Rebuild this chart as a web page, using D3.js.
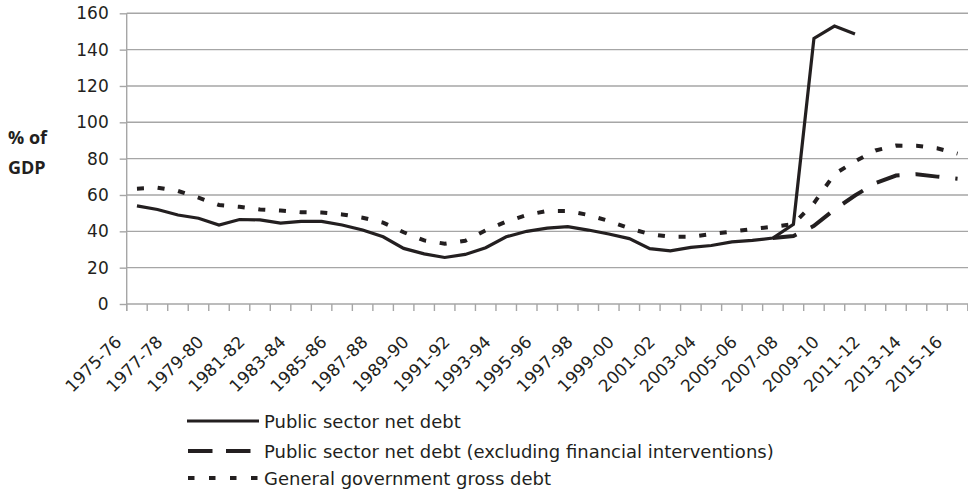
<!DOCTYPE html>
<html>
<head>
<meta charset="utf-8">
<script src="https://cdn.jsdelivr.net/npm/d3@7"></script>
<style>
  body { margin: 0; background: #fff; }
  svg { display: block; }
</style>
</head>
<body>
<div class="chart"></div>
<script>
// fiscal years on the x axis
var years = ["1975-76", "1976-77", "1977-78", "1978-79", "1979-80", "1980-81", "1981-82",
    "1982-83", "1983-84", "1984-85", "1985-86", "1986-87", "1987-88", "1988-89",
    "1989-90", "1990-91", "1991-92", "1992-93", "1993-94", "1994-95", "1995-96",
    "1996-97", "1997-98", "1998-99", "1999-00", "2000-01", "2001-02", "2002-03",
    "2003-04", "2004-05", "2005-06", "2006-07", "2007-08", "2008-09", "2009-10",
    "2010-11", "2011-12", "2012-13", "2013-14", "2014-15", "2015-16"];

// % of GDP
var netDebt = [54, 52, 49, 47.2, 43.5, 46.5, 46.3, 44.5, 45.5, 45.5, 43.5, 40.7, 37, 30.6,
    27.6, 25.6, 27.3, 31, 37, 40, 41.8, 42.6, 40.7, 38.5, 36, 30.5, 29.2, 31.2,
    32.2, 34.2, 35, 36.3, 43.9, 146.2, 153, 148.6, null, null, null, null, null];

var netDebtExFin = [null, null, null, null, null, null, null, null, null, null, null, null,
    null, null, null, null, null, null, null, null, null, null, null, null, null, null,
    null, null, null, null, null, 36.3, 37.4, 43, 52, 59.7, 66.6, 70.7, 71.4, 70.1, 69];

var grossDebt = [63.5, 64, 62.2, 58.5, 54.5, 53.5, 52, 51.4, 50.5, 50.3, 49.3, 47.5, 44.8, 39.5,
    35, 33.2, 34.8, 40.5, 45.3, 49, 51.2, 51.2, 49, 45.7, 41.7, 38.4, 37, 37,
    38.5, 39.8, 41.3, 42.5, 44, 55.5, 71.5, 78.5, 84.5, 87.2, 87.1, 85.7, 82.8];

var yTicks = [0, 20, 40, 60, 80, 100, 120, 140, 160];

var seriesNames = ["Public sector net debt",
    "Public sector net debt (excluding financial interventions)",
    "General government gross debt"];

var width = 968,
    height = 492,
    plotLeft = 126.7,
    plotRight = 967.8,
    plotTop = 13.3,
    plotBottom = 304,
    ink = "#231f20",
    grid = "#a6a6a6";

var svg = d3.select(".chart").append("svg")
        .attr("width", width)
        .attr("height", height);

var x = d3.scaleBand().domain(years).range([plotLeft, plotRight]);
var y = d3.scaleLinear().domain([0, 160]).range([plotBottom, plotTop]);
var half = x.bandwidth() / 2;

// horizontal gridlines
svg.append("g").selectAll("line")
    .data(yTicks.slice(1))
    .enter().append("line")
    .attr("x1", plotLeft)
    .attr("x2", width)
    .attr("y1", function(d) { return y(d); })
    .attr("y2", function(d) { return y(d); })
    .style("stroke", grid)
    .style("stroke-width", 1.4);

// y axis
var yAxis = svg.append("g")
    .attr("transform", "translate(" + plotLeft + ",0)")
    .call(d3.axisLeft(y).tickValues(yTicks).tickSize(7).tickPadding(11));
yAxis.select(".domain").remove();
yAxis.selectAll("line").style("stroke", grid).style("stroke-width", 1.4);
yAxis.selectAll("text")
    .style("font-family", "DejaVu Sans")
    .style("font-size", "17px")
    .style("fill", ink);

svg.append("line")
    .attr("x1", plotLeft).attr("x2", plotLeft)
    .attr("y1", plotTop).attr("y2", plotBottom + 7)
    .style("stroke", grid)
    .style("stroke-width", 1.4);

// x axis: baseline, ticks on category boundaries, every other label
svg.append("line")
    .attr("x1", plotLeft).attr("x2", width)
    .attr("y1", plotBottom).attr("y2", plotBottom)
    .style("stroke", grid)
    .style("stroke-width", 1.4);

var bounds = years.map(function(d) { return x(d); }).concat([plotRight]);
svg.append("g").selectAll("line")
    .data(bounds)
    .enter().append("line")
    .attr("x1", function(d) { return d; })
    .attr("x2", function(d) { return d; })
    .attr("y1", plotBottom)
    .attr("y2", plotBottom + 7)
    .style("stroke", grid)
    .style("stroke-width", 1.4);

svg.append("g").selectAll("text")
    .data(years.filter(function(d, i) { return i % 2 === 0; }))
    .enter().append("text")
    .attr("transform", function(d) {
        return "translate(" + (x(d) - 4) + "," + 343 + ") rotate(-45)";
    })
    .attr("text-anchor", "end")
    .style("font-family", "DejaVu Sans")
    .style("font-size", "17px")
    .style("fill", ink)
    .text(function(d) { return d; });

// axis title
var title = svg.append("text")
    .attr("x", 8)
    .style("font-family", "Open Sans")
    .style("font-weight", "bold")
    .style("font-size", "18px")
    .style("fill", ink);
title.append("tspan").attr("x", 8).attr("y", 144).text("% of");
title.append("tspan").attr("x", 8).attr("y", 174).text("GDP");

// lines
function makeLine() {
    return d3.line()
        .defined(function(d) { return d !== null; })
        .x(function(d, i) { return x(years[i]) + half; })
        .y(function(d) { return y(d); });
}

svg.append("path")
    .datum(grossDebt)
    .attr("d", makeLine())
    .style("fill", "none")
    .style("stroke", ink)
    .style("stroke-width", 4)
    .style("stroke-dasharray", "7,13.7");

svg.append("path")
    .datum(netDebtExFin)
    .attr("d", makeLine())
    .style("fill", "none")
    .style("stroke", ink)
    .style("stroke-width", 4)
    .style("stroke-dasharray", "24,16");

svg.append("path")
    .datum(netDebt)
    .attr("d", makeLine())
    .style("fill", "none")
    .style("stroke", ink)
    .style("stroke-width", 3.2)
    .style("stroke-linejoin", "miter");

// legend
var legendRows = [
    {y: 421, x1: 187, x2: 259, dash: null, w: 3.2},
    {y: 451, x1: 188, x2: 251, dash: "24.5,13.5", w: 4},
    {y: 478, x1: 188, x2: 259, dash: "6.5,14.5", w: 4}
];

var legend = svg.append("g").selectAll("g")
    .data(legendRows)
    .enter().append("g");

legend.append("line")
    .attr("x1", function(d) { return d.x1; })
    .attr("x2", function(d) { return d.x2; })
    .attr("y1", function(d) { return d.y; })
    .attr("y2", function(d) { return d.y; })
    .style("stroke", ink)
    .style("stroke-width", function(d) { return d.w; })
    .style("stroke-dasharray", function(d) { return d.dash; });

legend.append("text")
    .attr("x", 264)
    .attr("y", function(d) { return d.y + 6.5; })
    .style("font-family", "DejaVu Sans")
    .style("font-size", "18px")
    .style("fill", ink)
    .text(function(d, i) { return seriesNames[i]; });
</script>
</body>
</html>
